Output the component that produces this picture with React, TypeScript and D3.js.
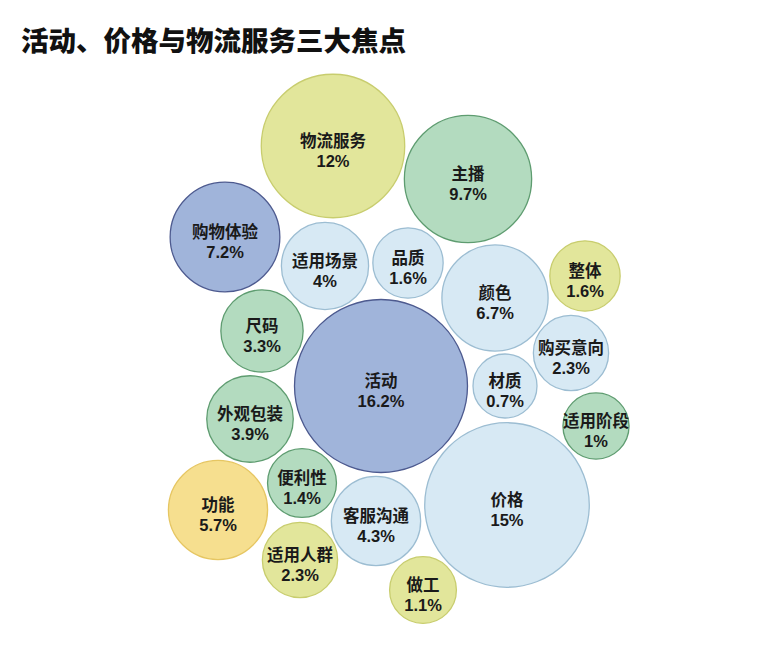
import React from "react";
import * as d3 from "d3";

// ---- data ----
const categories = ["物流服务", "主播", "购物体验", "适用场景", "品质", "颜色", "整体", "尺码", "活动", "购买意向", "材质", "适用阶段", "外观包装", "便利性", "功能", "客服沟通", "价格", "适用人群", "做工"];
const values = [12, 9.7, 7.2, 4, 1.6, 6.7, 1.6, 3.3, 16.2, 2.3, 0.7, 1, 3.9, 1.4, 5.7, 4.3, 15, 2.3, 1.1];
const groups = ["yg", "green", "blue", "light", "light", "light", "yg", "green", "blue", "light", "light", "green", "green", "green", "yellow", "light", "light", "yg", "yg"];
const title = "活动、价格与物流服务三大焦点";

// ---- layout (bubble centres) ----
const centerX = [333, 468, 225, 325, 408, 495, 585, 262, 381, 571, 505, 596, 250, 302, 218, 376, 507, 300, 423];
const centerY = [146, 179, 237, 266, 263, 298, 276, 331, 386, 353, 386, 426, 419, 483, 510, 521, 505, 560, 590];

const palette: Record<string, { fill: string; stroke: string }> = {
  yg: { fill: "#e2e69b", stroke: "#c8cd6e" },
  green: { fill: "#b3dbbf", stroke: "#5e9c70" },
  blue: { fill: "#a0b4da", stroke: "#4d5a8f" },
  light: { fill: "#d7e9f4", stroke: "#9cbdd2" },
  yellow: { fill: "#f6df8f", stroke: "#e6c662" },
};

export default function App() {
  const W = 767, H = 652;
  const rScale = d3.scaleLinear().domain([0.7, 16.2]).range([32, 86.5]);
  const font = "'Noto Sans CJK SC', 'Noto Sans', sans-serif";
  const numFont = "'Liberation Sans', Arial, sans-serif";
  const nodes = categories.map((c, i) => ({
    name: c,
    value: values[i],
    group: groups[i],
    x: centerX[i],
    y: centerY[i],
    r: rScale(values[i]),
  }));
  return (
    <svg width={W} height={H} style={{ position: "absolute", left: 0, top: 0, background: "#fff" }}>
      <text x={21} y={51} fontFamily={font} fontWeight={900} fontSize={27.5} fill="#111">{title}</text>
      {nodes.map((n) => (
        <g key={n.name} transform={`translate(${n.x},${n.y})`}>
          <circle r={n.r} fill={palette[n.group].fill} stroke={palette[n.group].stroke} strokeWidth={1.3} />
          <text y={0.5} textAnchor="middle" fontFamily={font} fontWeight={700} fontSize={16.5} fill="#1a1a1a">{n.name}</text>
          <text y={20.5} textAnchor="middle" fontFamily={numFont} fontWeight={700} fontSize={16.5} fill="#1a1a1a">{`${n.value}%`}</text>
        </g>
      ))}
    </svg>
  );
}
